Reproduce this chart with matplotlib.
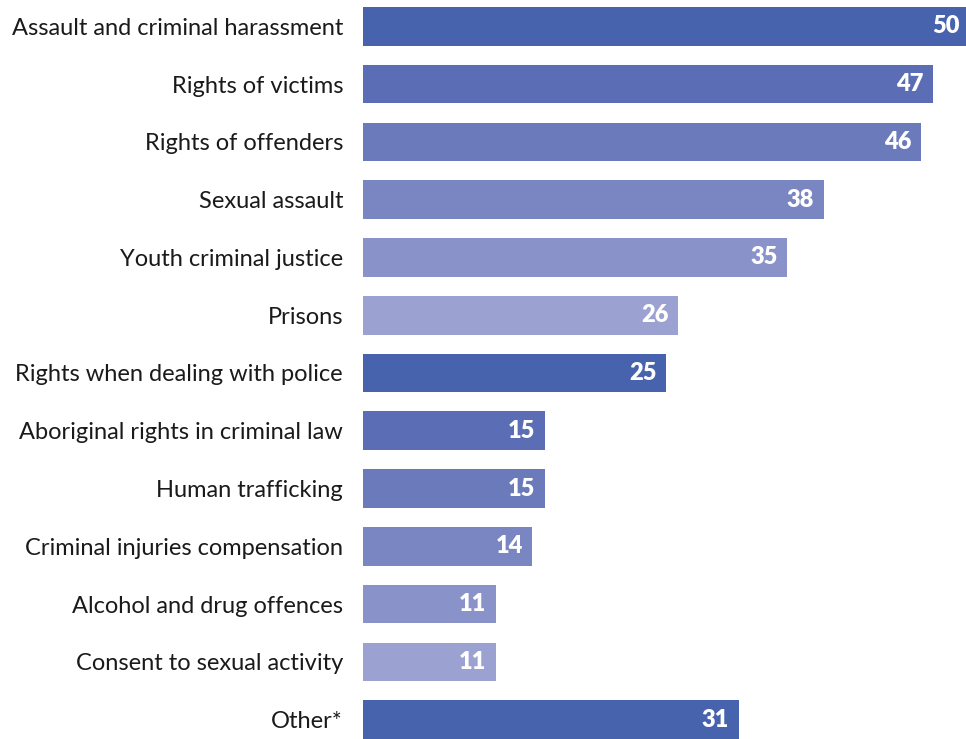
import matplotlib
matplotlib.use('Agg')
import matplotlib.pyplot as plt

categories = [
    'Assault and criminal harassment',
    'Rights of victims',
    'Rights of offenders',
    'Sexual assault',
    'Youth criminal justice',
    'Prisons',
    'Rights when dealing with police',
    'Aboriginal rights in criminal law',
    'Human trafficking',
    'Criminal injuries compensation',
    'Alcohol and drug offences',
    'Consent to sexual activity',
    'Other*',
]
values = [50, 47, 46, 38, 35, 26, 25, 15, 15, 14, 11, 11, 31]

# six shades of blue, repeated down the list
shades = ['#4763ae', '#5b6db4', '#6b7abb', '#7a86c2', '#8a93c9', '#9ba2d1']
colors = [shades[i % len(shades)] for i in range(len(values))]

plt.rcParams['font.family'] = ['Lato', 'DejaVu Sans']

fig = plt.figure(figsize=(9.66, 7.39), dpi=100)
# the longest bar runs slightly past the right edge
ax = fig.add_axes([362.5 / 966, 0, 607 / 966, 732 / 739])

ypos = list(range(len(values)))
ax.barh(ypos, values, height=0.67, color=colors)

for y, v in zip(ypos, values):
    ax.annotate(str(v), xy=(v, y), xytext=(-7, 0), textcoords='offset points',
                ha='right', va='center', color='white', fontsize=17, fontweight='heavy')

ax.set_xlim(0, 50)
ax.set_ylim(len(values) - 1 + 0.335, -0.335)
ax.set_yticks(ypos)
ax.set_yticklabels(categories, fontsize=17, color='#1a1a1a')
ax.tick_params(axis='y', length=0, pad=14)
ax.set_xticks([])
for s in ax.spines.values():
    s.set_visible(False)

fig.savefig('out.png', dpi=100)
